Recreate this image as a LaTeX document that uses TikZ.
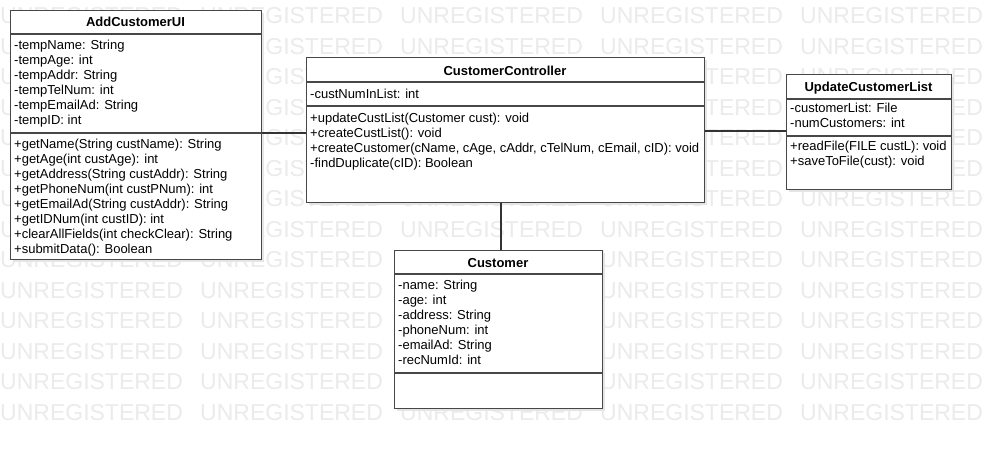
\documentclass[tikz,border=0pt]{standalone}
\usepackage{fontspec}
\setmainfont{Liberation Sans}
\begin{document}
\begin{tikzpicture}[x=1pt,y=-1pt,
  umlbox/.style={draw=black!72, line width=1.2pt, fill=white, inner sep=0pt, anchor=north west},
  shadowbox/.style={fill=black!10, draw=none, inner sep=0pt, anchor=north west},
  sepline/.style={draw=black!72, line width=1.2pt},
  conn/.style={draw=black!80, line width=1.1pt},
  title/.style={font=\fontsize{13}{15}\selectfont\bfseries, inner sep=0pt, anchor=base},
  member/.style={font=\fontsize{13}{15}\selectfont, inner sep=0pt, anchor=base west},
  wm/.style={font=\fontsize{23}{26}\selectfont, text=black!8, inner sep=0pt, anchor=west}
]
\useasboundingbox[fill=white] (0,0) rectangle (991,450);

% watermark
\foreach \k in {0,...,13}{
  \foreach \i in {0,...,4}{
    \node[wm] (wm-\k-\i) at (\i*200, 16+30.5*\k) {UNREGISTERED};
  }
}

% shadows
\node[shadowbox, minimum width=251, minimum height=249] (uis) at (13,13) {};
\node[shadowbox, minimum width=398, minimum height=145] (ctrls) at (309,60) {};
\node[shadowbox, minimum width=165, minimum height=115] (upds) at (789,77) {};
\node[shadowbox, minimum width=208, minimum height=158] (custs) at (397,253) {};

% boxes
\node[umlbox, minimum width=251, minimum height=249] (ui) at (10,10) {};
\node[umlbox, minimum width=398, minimum height=145] (ctrl) at (306,57) {};
\node[umlbox, minimum width=165, minimum height=115] (upd) at (786,74) {};
\node[umlbox, minimum width=208, minimum height=158] (cust) at (394,250) {};

% connectors
\draw[conn] (ui.east |- 0,133) -- (ctrl.west |- 0,133);
\draw[conn] (ctrl.east |- 0,131) -- (upd.west |- 0,131);
\draw[conn] (ctrl.south -| 501,0) -- (cust.north -| 501,0);

% AddCustomerUI
\draw[sepline] (ui.west |- 0,34) -- (ui.east |- 0,34);
\draw[sepline] (ui.west |- 0,133) -- (ui.east |- 0,133);
\node[title] (ui-t) at (135.5,26.5) {AddCustomerUI};
\node[member] (ui-a1) at (14,49.5) {-tempName: String};
\node[member] (ui-a2) at (14,64.5) {-tempAge: int};
\node[member] (ui-a3) at (14,79.5) {-tempAddr: String};
\node[member] (ui-a4) at (14,94.5) {-tempTelNum: int};
\node[member] (ui-a5) at (14,109.5) {-tempEmailAd: String};
\node[member] (ui-a6) at (14,124.5) {-tempID: int};
\node[member] (ui-m1) at (14,148.5) {+getName(String custName): String};
\node[member] (ui-m2) at (14,163.5) {+getAge(int custAge): int};
\node[member] (ui-m3) at (14,178.5) {+getAddress(String custAddr): String};
\node[member] (ui-m4) at (14,193.5) {+getPhoneNum(int custPNum): int};
\node[member] (ui-m5) at (14,208.5) {+getEmailAd(String custAddr): String};
\node[member] (ui-m6) at (14,223.5) {+getIDNum(int custID): int};
\node[member] (ui-m7) at (14,238.5) {+clearAllFields(int checkClear): String};
\node[member] (ui-m8) at (14,253.5) {+submitData(): Boolean};

% CustomerController
\draw[sepline] (ctrl.west |- 0,82) -- (ctrl.east |- 0,82);
\draw[sepline] (ctrl.west |- 0,106) -- (ctrl.east |- 0,106);
\node[title] (ctrl-t) at (505,75.5) {CustomerController};
\node[member] (ctrl-a1) at (310,98.5) {-custNumInList: int};
\node[member] (ctrl-m1) at (310,122.5) {+updateCustList(Customer cust): void};
\node[member] (ctrl-m2) at (310,137.5) {+createCustList(): void};
\node[member] (ctrl-m3) at (310,152.5) {+createCustomer(cName, cAge, cAddr, cTelNum, cEmail, cID): void};
\node[member] (ctrl-m4) at (310,167.5) {-findDuplicate(cID): Boolean};

% UpdateCustomerList
\draw[sepline] (upd.west |- 0,99) -- (upd.east |- 0,99);
\draw[sepline] (upd.west |- 0,136) -- (upd.east |- 0,136);
\node[title] (upd-t) at (868.5,91.5) {UpdateCustomerList};
\node[member] (upd-a1) at (790,112.5) {-customerList: File};
\node[member] (upd-a2) at (790,127.5) {-numCustomers: int};
\node[member] (upd-m1) at (790,150.5) {+readFile(FILE custL): void};
\node[member] (upd-m2) at (790,165.5) {+saveToFile(cust): void};

% Customer
\draw[sepline] (cust.west |- 0,274) -- (cust.east |- 0,274);
\draw[sepline] (cust.west |- 0,373) -- (cust.east |- 0,373);
\node[title] (cust-t) at (498,267.5) {Customer};
\node[member] (cust-a1) at (398,289.5) {-name: String};
\node[member] (cust-a2) at (398,304.5) {-age: int};
\node[member] (cust-a3) at (398,319.5) {-address: String};
\node[member] (cust-a4) at (398,334.5) {-phoneNum: int};
\node[member] (cust-a5) at (398,349.5) {-emailAd: String};
\node[member] (cust-a6) at (398,364.5) {-recNumId: int};
\end{tikzpicture}
\end{document}
